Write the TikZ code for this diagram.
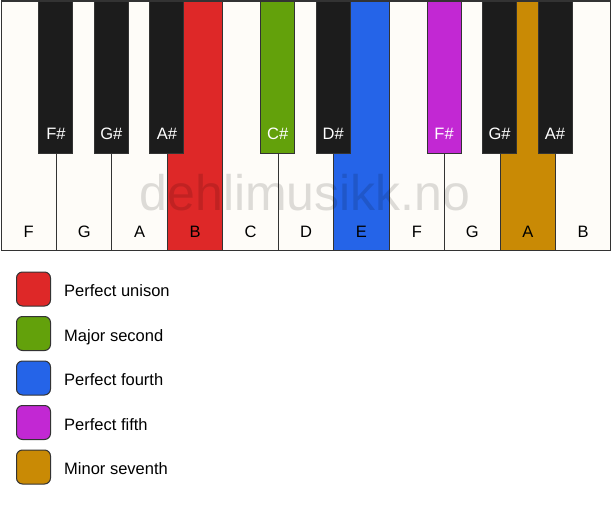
\documentclass[tikz,border=0pt]{standalone}
\usepackage{fontspec}
\setmainfont{Liberation Sans}
\usetikzlibrary{positioning}
\definecolor{keywhite}{HTML}{FEFCF8}
\definecolor{keyblack}{HTML}{1C1C1C}
\definecolor{keyedge}{HTML}{333333}
\definecolor{unison}{HTML}{DE2828}
\definecolor{second}{HTML}{63A10B}
\definecolor{fourth}{HTML}{2564E8}
\definecolor{fifth}{HTML}{C228D3}
\definecolor{seventh}{HTML}{C98A05}
\begin{document}
\begin{tikzpicture}[x=1pt,y=-1pt,
  whitekey/.style={draw=keyedge,line width=1pt,fill=keywhite,minimum width=55.45pt,minimum height=249.5pt,inner sep=0pt,anchor=north west},
  blackkey/.style={draw=keyedge,line width=1pt,fill=keyblack,minimum width=34pt,minimum height=152.5pt,inner sep=0pt,anchor=north},
  keyname/.style={inner sep=0pt,font=\fontsize{16.5}{19}\selectfont},
  legendtext/.style={keyname,text height=15pt,text depth=0pt},
  swatch/.style={draw=keyedge,line width=1pt,rounded corners=6pt,minimum size=34pt,inner sep=0pt}]
\useasboundingbox (0,0) rectangle (611,506);
% white keys
\foreach \n/\c [count=\i from 0] in {F/keywhite,G/keywhite,A/keywhite,B/unison,C/keywhite,D/keywhite,E/fourth,F/keywhite,G/keywhite,A/seventh,B/keywhite}
{
  \node[whitekey,fill=\c] (w\i) at (0.5+55.45*\i,0.5) {};
  \node[keyname,above=13pt of w\i.south] (wl\i) {\n};
}
\node[font=\fontsize{50}{60}\selectfont,text=black,text opacity=0.13,anchor=base,inner sep=0pt] (mark) at (305,210) {dehlimusikk.no};
% black keys
\foreach \n/\b/\c in {F\#/1/keyblack,G\#/2/keyblack,A\#/3/keyblack,C\#/5/second,D\#/6/keyblack,F\#/8/fifth,G\#/9/keyblack,A\#/10/keyblack}
{
  \node[blackkey,fill=\c] (b\b) at (w\b.north west) {};
  \node[keyname,text=white,above=14pt of b\b.south] (bl\b) {\n};
}
% legend
\foreach \c/\t [count=\i from 0] in {unison/Perfect unison,second/Major second,fourth/Perfect fourth,fifth/Perfect fifth,seventh/Minor seventh}
{
  \node[swatch,fill=\c] (s\i) at (33.5,289+44.5*\i) {};
  \node[legendtext,right=13pt of s\i] (t\i) {\t};
}
\end{tikzpicture}
\end{document}
